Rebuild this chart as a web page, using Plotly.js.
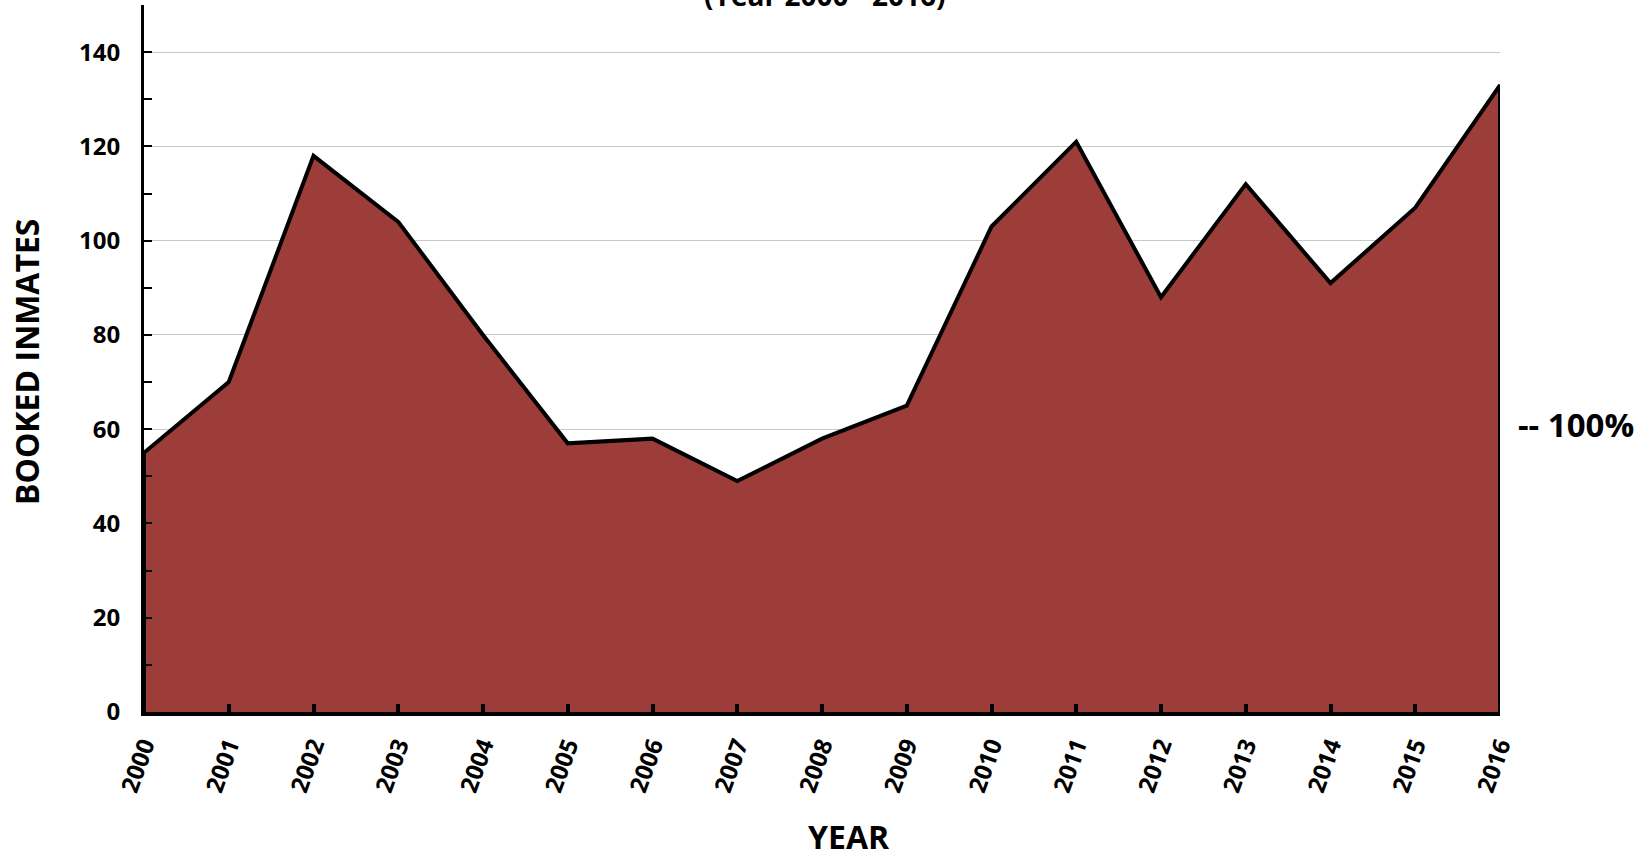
<!DOCTYPE html>
<html>
<head>
<meta charset="utf-8">
<script src="https://cdn.plot.ly/plotly-3.0.1.min.js"></script>
<style>html,body{margin:0;padding:0;background:#fff;}#chart{width:1646px;height:858px;}</style>
</head>
<body>
<div id="chart"></div>
<script>
const years = [2000,2001,2002,2003,2004,2005,2006,2007,2008,2009,2010,2011,2012,2013,2014,2015,2016];
const bookedInmates = [55,70,118,104,80,57,58,49,58,65,103,121,88,112,91,107,133];
const yTickVals = [0,20,40,60,80,100,120,140];
const subtitleText = "(Year 2000 - 2016)";
const xTitle = "YEAR";
const yTitle = "BOOKED INMATES";
const sideLabel = "-- 100%";

const FONT = "'Open Sans', Lato, 'DejaVu Sans', sans-serif";

// closed outline built from the data arrays
const px = [years[0]].concat(years, [years[years.length-1]]);
const py = [0].concat(bookedInmates, [0]);

const trace = {
  x: px, y: py, type: 'scatter', mode: 'lines',
  fill: 'toself', fillcolor: 'rgb(156,61,57)',
  line: {color: '#000', width: 4, shape: 'linear'},
  hoverinfo: 'skip', showlegend: false
};

const layout = {
  width: 1646, height: 858,
  margin: {l: 144, r: 146, t: 5, b: 146},
  paper_bgcolor: '#fff', plot_bgcolor: '#fff',
  font: {family: FONT, color: '#000'},
  xaxis: {
    range: [2000, 2016], tickvals: years, ticktext: years.map(String),
    tickangle: -70, ticks: 'inside', ticklen: 8, tickwidth: 4, tickcolor: '#000',
    showline: true, linewidth: 4, linecolor: '#000', showgrid: false, zeroline: false,
    tickfont: {family: FONT, size: 24, color: '#000', weight: 'bold'},
    ticklabelstandoff: 6
  },
  yaxis: {
    range: [0, 150], tickvals: yTickVals, ticks: 'inside', ticklen: 8, tickwidth: 2, tickcolor: '#000',
    minor: {dtick: 10, tick0: 0, ticks: 'inside', ticklen: 8, tickwidth: 2, tickcolor: '#000', showgrid: false},
    showline: true, linewidth: 3, linecolor: '#000',
    showgrid: true, gridcolor: '#c8c8c8', gridwidth: 1, zeroline: false,
    tickfont: {family: FONT, size: 24, color: '#000', weight: 'bold'},
    ticklabelstandoff: 16
  },
  annotations: [
    {text: subtitleText, xref: 'paper', yref: 'paper', x: 0.502, y: 0.984, xanchor: 'center', yanchor: 'bottom',
     showarrow: false, font: {family: FONT, size: 28, weight: 'bold', color: '#000'}},
    {text: xTitle, xref: 'paper', yref: 'paper', x: 0.52, y: -0.176, xanchor: 'center', yanchor: 'middle', borderpad: 0,
     showarrow: false, font: {family: FONT, size: 32, weight: 'bold', color: '#000'}},
    {text: yTitle, xref: 'paper', yref: 'paper', x: -0.087, y: 0.495, xanchor: 'center', yanchor: 'middle', textangle: -90,
     showarrow: false, font: {family: FONT, size: 32, weight: 'bold', color: '#000'}},
    {text: sideLabel, xref: 'paper', yref: 'paper', x: 1.012, y: 0.407, xanchor: 'left', yanchor: 'middle',
     showarrow: false, font: {family: FONT, size: 33, weight: 'bold', color: '#000'}}
  ]
};

Plotly.newPlot('chart', [trace], layout, {displayModeBar: false, staticPlot: true});
</script>
</body>
</html>
